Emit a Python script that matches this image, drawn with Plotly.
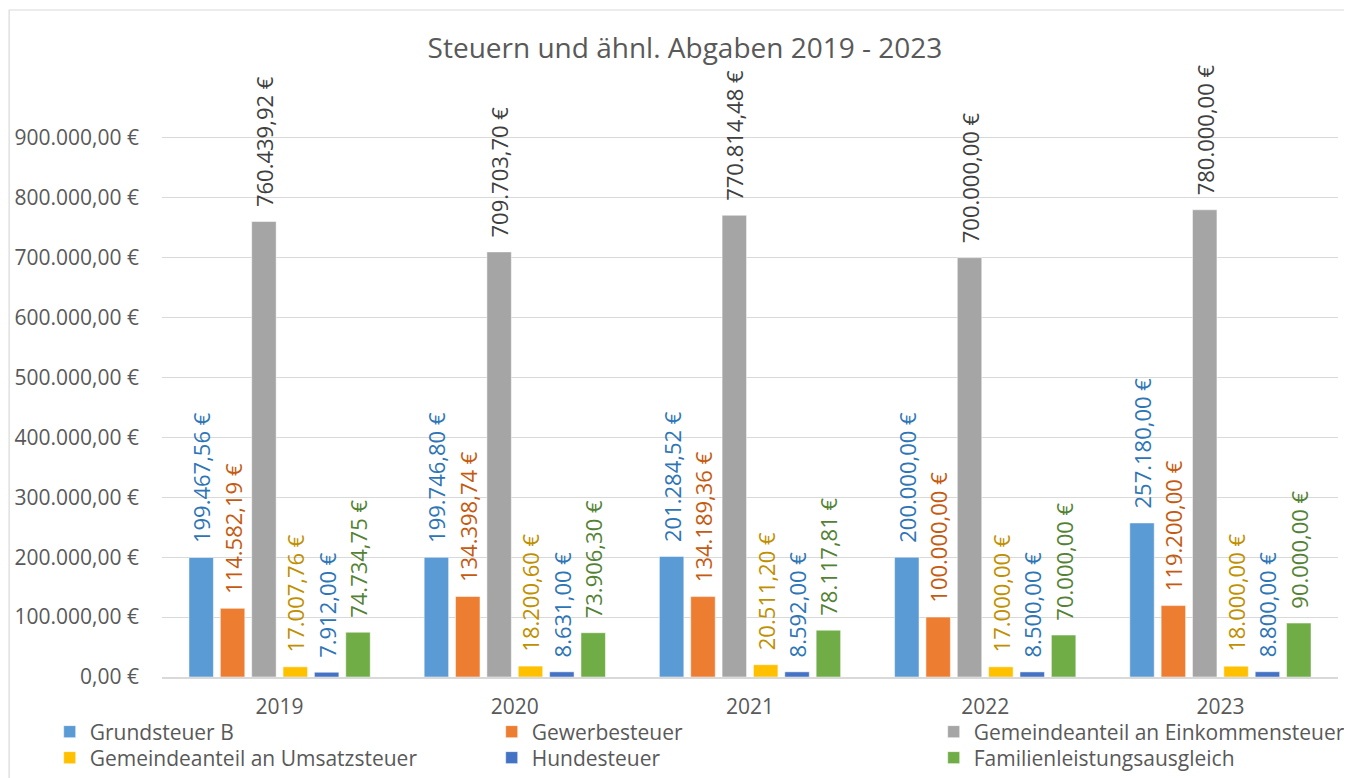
import plotly.graph_objects as go

years = ["2019", "2020", "2021", "2022", "2023"]
series_names = [
    "Grundsteuer B",
    "Gewerbesteuer",
    "Gemeindeanteil an Einkommensteuer",
    "Gemeindeanteil an Umsatzsteuer",
    "Hundesteuer",
    "Familienleistungsausgleich",
]
grundsteuer_b = [199467.56, 199746.80, 201284.52, 200000.00, 257180.00]
gewerbesteuer = [114582.19, 134398.74, 134189.36, 100000.00, 119200.00]
einkommensteuer = [760439.92, 709703.70, 770814.48, 700000.00, 780000.00]
umsatzsteuer = [17007.76, 18200.60, 20511.20, 17000.00, 18000.00]
hundesteuer = [7912.00, 8631.00, 8592.00, 8500.00, 8800.00]
familienleistung = [74734.75, 73906.30, 78117.81, 70000.00, 90000.00]
y_ticks = [0, 100000, 200000, 300000, 400000, 500000, 600000, 700000, 800000, 900000]


def eur(v):
    s = f"{v:,.2f}".replace(",", "X").replace(".", ",").replace("X", ".")
    return s + " €"


y_tick_text = [eur(v) for v in y_ticks]

values = [grundsteuer_b, gewerbesteuer, einkommensteuer, umsatzsteuer, hundesteuer, familienleistung]
bar_colors = ["#5B9BD5", "#ED7D31", "#A5A5A5", "#FFC000", "#4472C4", "#70AD47"]
label_colors = ["#2E75B6", "#C55A11", "#404040", "#BF9000", "#2E75B6", "#548235"]
legend_ids = ["legend", "legend", "legend", "legend2", "legend2", "legend2"]

FONT = "Open Sans"
GREY = "#595959"
FS = 21

fig = go.Figure()
for name, vals, bc, lc, lg in zip(series_names, values, bar_colors, label_colors, legend_ids):
    fig.add_trace(go.Bar(
        name=name,
        x=years,
        y=vals,
        legend=lg,
        marker=dict(color=bc, line=dict(color="white", width=0.5)),
        texttemplate="\u00a0\u00a0%{y:,.2f} €",
        textposition="outside",
        textangle=-90,
        cliponaxis=False,
        constraintext="none",
        outsidetextfont=dict(family=FONT, size=22, color=lc),
        hoverinfo="skip",
    ))

legend_common = dict(
    orientation="h",
    xanchor="left",
    yanchor="middle",
    entrywidth=397, entrywidthmode="pixels",
    font=dict(family=FONT, size=FS, color=GREY),
    traceorder="normal",
    itemclick=False,
    bgcolor="rgba(0,0,0,0)",
)

fig.update_layout(
    width=1344,
    height=770,
    separators=",.",
    paper_bgcolor="white",
    plot_bgcolor="white",
    margin=dict(l=154, r=14, t=70, b=101, autoexpand=False),
    barmode="group",
    bargap=0.2,
    bargroupgap=0.22,
    font=dict(family=FONT, color=GREY),
    title=dict(
        text="Steuern und ähnl. Abgaben 2019 - 2023",
        font=dict(family=FONT, size=28, color=GREY),
        x=0.5037, xref="container", xanchor="center",
        y=0.948, yref="container", yanchor="middle",
    ),
    showlegend=True,
    legend=dict(legend_common, x=-0.0955, y=-0.0918),
    legend2=dict(legend_common, x=-0.0955, y=-0.1352),
    shapes=[dict(
        type="rect", xref="paper", yref="paper",
        x0=-0.130, x1=1.02, y0=-0.2, y1=1.1135,
        line=dict(color="#D9D9D9", width=1.2),
        fillcolor="rgba(0,0,0,0)", layer="below",
    )],
)

fig.update_xaxes(
    type="category",
    showline=True, linecolor="#D9D9D9", linewidth=1.5,
    ticks="", showgrid=False,
    tickfont=dict(family=FONT, size=FS, color=GREY),
    ticklabelstandoff=10,
)
fig.update_yaxes(
    range=[0, 1000000],
    tickvals=y_ticks,
    ticktext=y_tick_text,
    showgrid=True, gridcolor="#D9D9D9", gridwidth=1.2,
    zeroline=False, showline=False, ticks="",
    tickfont=dict(family=FONT, size=FS, color=GREY),
    ticklabelstandoff=22,
)

fig.write_html("out.html")
